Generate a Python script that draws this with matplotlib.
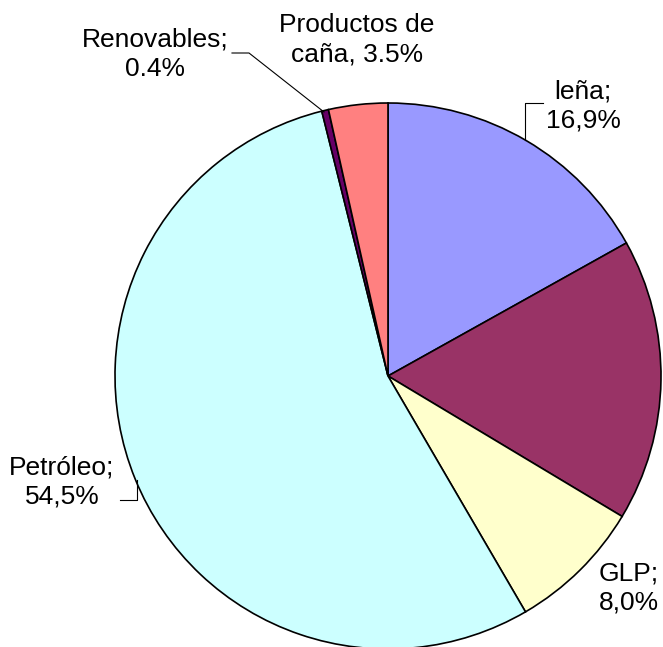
import matplotlib.pyplot as plt

plt.rcParams['font.family'] = ['Liberation Sans', 'DejaVu Sans']

# data (clockwise from 12 o'clock)
names = ['leña', 'Gas natural', 'GLP', 'Petróleo', 'Renovables', 'Productos de caña']
shares = [16.9, 16.7, 8.0, 54.5, 0.4, 3.5]
colors = ['#9999FF', '#993366', '#FFFFCC', '#CCFFFF', '#660066', '#FF8080']

W, H = 663, 647
fig = plt.figure(figsize=(W / 100, H / 100), dpi=100)
ax = fig.add_axes([0, 0, 1, 1])

cx, cy, r = 388, H - 376, 273
ax.pie(shares, colors=colors, startangle=90, counterclock=False,
       center=(cx, cy), radius=r, frame=True,
       wedgeprops=dict(edgecolor='black', linewidth=1.2))
ax.set_xlim(0, W)
ax.set_ylim(0, H)
ax.set_aspect('equal')
ax.axis('off')

fs = 19
def lab(x, y, s, ha='center'):
    ax.text(x, H - y, s, fontsize=fs, ha=ha, va='center', linespacing=1.3)

lab(357, 40, 'Productos de\ncaña, 3.5%')
lab(155, 54, 'Renovables;\n0.4%')
lab(583, 106, 'leña;\n16,9%')
lab(599, 588, 'GLP;\n8,0%', ha='left')
lab(62, 482, 'Petróleo;\n54,5%')

lk = dict(color='black', linewidth=0.8)
ax.plot([232, 249, 324], [H - 53, H - 53, H - 112], **lk)
ax.plot([543, 525, 525], [H - 103, H - 103, H - 140], **lk)
ax.plot([120, 137, 137], [H - 500, H - 500, H - 480], **lk)

fig.savefig('out.png', dpi=100)
